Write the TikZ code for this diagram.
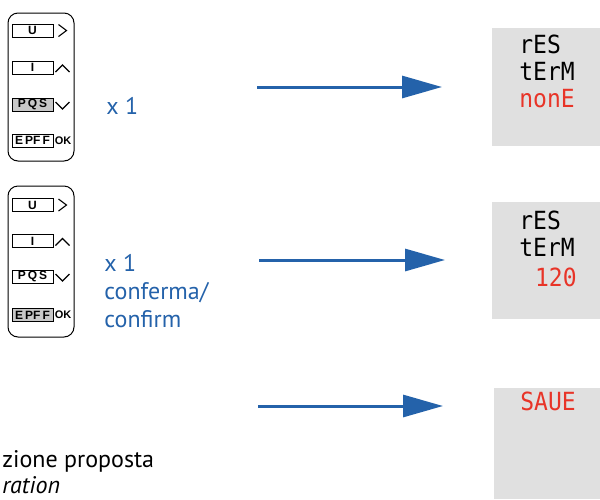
\documentclass[tikz,border=0pt]{standalone}
\usepackage{fontspec}
\setmainfont{PT Sans}
\newfontfamily\keyFont{Liberation Sans}
\newfontfamily\segFont{DejaVu Sans Mono}
\usepackage{xcolor}
\definecolor{stepBlue}{RGB}{36, 98, 170}
\definecolor{segRed}{RGB}{232, 52, 40}
\definecolor{dispGray}{RGB}{224, 224, 224}
\definecolor{keyPressed}{RGB}{200, 200, 200}
\usepackage{tikz}
\usetikzlibrary{arrows.meta, positioning}

\begin{document}
\begin{tikzpicture}[
    x=0.5pt, y=-0.5pt,
    keyPad/.style={
        rectangle, rounded corners=5pt, draw=black, line width=0.5pt,
        minimum width=33pt, inner sep=0pt
    },
    keyBtn/.style={
        rectangle, draw=black, line width=0.5pt, fill=white,
        minimum width=20.5pt, minimum height=6.5pt, inner sep=0pt,
        font=\keyFont\bfseries\fontsize{6}{6}\selectfont
    },
    keyOn/.style={keyBtn, fill=keyPressed},
    keyMark/.style={line width=0.55pt, line join=miter},
    okLabel/.style={font=\keyFont\bfseries\fontsize{5.5}{5.5}\selectfont, inner sep=0pt},
    stepLabel/.style={
        font=\fontsize{12}{14}\selectfont, text=stepBlue, align=left, anchor=west, inner sep=0pt
    },
    noteLabel/.style={font=\fontsize{12}{12}\selectfont, anchor=west, inner sep=0pt},
    dispBox/.style={rectangle, fill=dispGray, inner sep=0pt},
    segText/.style={font=\segFont\fontsize{12.5}{12.5}\selectfont, anchor=west, inner sep=0pt, xscale=0.92},
    segRedText/.style={segText, text=segRed},
    stepArrow/.style={
        -{Triangle[length=20pt, width=11pt]}, line width=1.5pt, draw=stepBlue
    }
]
    \useasboundingbox (0,0) rectangle (600,499);

    % Keypad 1 (PQS pressed)
    \node[keyPad, minimum height=74pt] (pad1) at (41,87) {};
    \node[keyBtn] (u1) at (32.5,30.5) {U};
    \node[keyBtn] (i1) at (32.5,67.5) {I};
    \node[keyOn] (p1) at (32.5,104.5) {P\,Q\,S};
    \node[keyBtn] (e1) at (32.5,140.5) {E\,PF\,F};
    \draw[keyMark] ([shift={(5,-6)}]u1.east) -- ++(8,6) -- ++(-8,6);
    \draw[keyMark] ([shift={(2,4.5)}]i1.east) -- ++(7,-7) -- ++(7,7);
    \draw[keyMark] ([shift={(2,-2.5)}]p1.east) -- ++(7,7) -- ++(7,-7);
    \node[okLabel] (ok1) at (63,140.5) {OK};

    % Keypad 2 (EPFF pressed)
    \node[keyPad, minimum height=75.5pt] (pad2) at (41,261.5) {};
    \node[keyBtn] (u2) at (32.5,205) {U};
    \node[keyBtn] (i2) at (32.5,241) {I};
    \node[keyBtn] (p2) at (32.5,276.5) {P\,Q\,S};
    \node[keyOn] (e2) at (32.5,315) {E\,PF\,F};
    \draw[keyMark] ([shift={(5,-6)}]u2.east) -- ++(8,6) -- ++(-8,6);
    \draw[keyMark] ([shift={(2,4.5)}]i2.east) -- ++(7,-7) -- ++(7,7);
    \draw[keyMark] ([shift={(2,-2.5)}]p2.east) -- ++(7,7) -- ++(7,-7);
    \node[okLabel] (ok2) at (63,315) {OK};

    % Step labels
    \node[stepLabel] (lbl1) at (106,106) {x 1};
    \node[stepLabel, anchor=north west] (lbl2) at (104,254) {x 1\\conferma/\\confirm};
    \node[noteLabel] (note1) at (2,461) {zione proposta};
    \node[noteLabel, font=\fontsize{12}{12}\selectfont\itshape] (note2) at (2,485) {ration};

    % Displays
    \node[dispBox, minimum width=54pt, minimum height=59pt] (disp1) at (546,87) {};
    \node[dispBox, minimum width=54pt, minimum height=58.5pt] (disp2) at (546,260.5) {};
    \node[dispBox, minimum width=53pt, minimum height=55.5pt] (disp3) at (547,443.5) {};

    \node[segText] (d1a) at (519,44) {rES};
    \node[segText] (d1b) at (519,71) {tErM};
    \node[segRedText] (d1c) at (519,99) {nonE};
    \node[segText] (d2a) at (519,220) {rES};
    \node[segText] (d2b) at (519,247) {tErM};
    \node[segRedText, anchor=east] (d2c) at (577,277) {120};
    \node[segRedText] (d3a) at (520,401) {SAUE};

    % Arrows
    \coordinate (a1s) at (257,87);
    \coordinate (a1e) at (442,87);
    \coordinate (a2s) at (259,260);
    \coordinate (a2e) at (445,260);
    \coordinate (a3s) at (258,406);
    \coordinate (a3e) at (443,406);
    \draw[stepArrow] (a1s) -- (a1e);
    \draw[stepArrow] (a2s) -- (a2e);
    \draw[stepArrow] (a3s) -- (a3e);

\end{tikzpicture}
\end{document}
